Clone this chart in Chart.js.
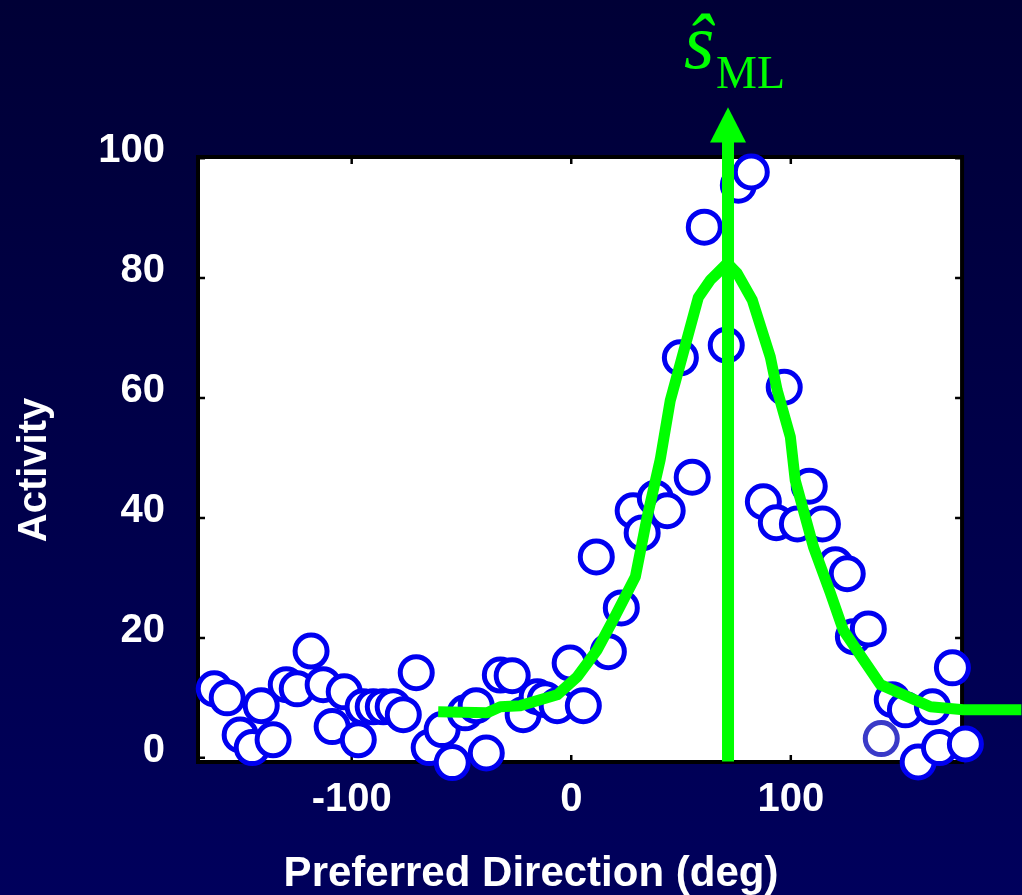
<!DOCTYPE html>
<html>
<head>
<meta charset="utf-8">
<script src="https://cdn.jsdelivr.net/npm/chart.js@4.4.1/dist/chart.umd.min.js"></script>
<style>
  html, body { margin: 0; padding: 0; }
  body {
    width: 1022px; height: 895px; overflow: hidden;
    background: linear-gradient(#000036, #00005c);
  }
  #wrap { position: relative; width: 1022px; height: 895px; }
</style>
</head>
<body>
<div id="wrap"><canvas id="tuning" width="1022" height="895"></canvas></div>
<script>
// neuron preferred directions (deg) and their activity
const prefDir = [
  -162.6, -156.7, -150.8, -145.3, -141.2, -135.8, -129.8, -124.8, -118.5, -113,
  -108.9, -103.4, -97, -94.8, -90.2, -85.6, -81.1, -76.5, -70.6, -64.7,
  -58.8, -54.2, -48.3, -43.3, -38.7, -32.3, -26.9, -21.9, -15.5, -11.8,
  -6.4, -0.5, 5.5, 11.4, 16.9, 22.8, 28.2, 32.3, 38.3, 43.7,
  49.7, 55.1, 60.6, 70.6, 76.1, 82, 87.5, 93.4, 97, 103,
  108.4, 114.4, 120.3, 125.7, 128.5, 135.3, 141.2, 146.2, 152.2, 158,
  164.5, 167.7, 173.6, 179.5
];
const activity = [
  11.5, 10, 3.8, 1.7, 8.7, 3, 12.2, 11.5, 17.8, 12.2,
  5.2, 11, 3, 8.5, 8.5, 8.5, 8.5, 7.2, 14.2, 1.7,
  4.7, -0.8, 7.5, 8.7, 0.8, 13.8, 13.7, 7.2, 10.2, 9.7,
  8.7, 15.8, 8.7, 33.5, 17.7, 25, 41.2, 37.5, 43.3, 41.2,
  66.7, 46.8, 88.5, 68.8, 95.5, 97.7, 42.7, 39.2, 61.8, 39,
  45.3, 39, 32.2, 30.7, 20.2, 21.5, 3.2, 9.7, 8, -0.7,
  8.5, 1.7, 15, 2.3
];
const dimPoint = 56; // the one greyish circle

// fitted tuning curve (green)
const fitX = [-60.6, -38.3, -32.3, -23.2, -6.4, 2.7, 11.8, 19.1, 29.2, 34.6, 40.5, 45.1, 51, 57.9, 63.4, 66.5, 71.1,
              75.6, 82.5, 90.7, 93.8, 99.8, 102, 110.3, 118, 123.9, 140.8, 163.6, 178.6, 205];
const fitY = [7.7, 7.5, 8.5, 8.7, 10.5, 13.5, 18, 23, 30.2, 40.2, 49.7, 59.6, 67.5, 76.8, 79.7, 80.8, 82.5,
              80.8, 76.3, 66.8, 61.3, 53.5, 46.3, 35.2, 27.5, 21.3, 12.2, 8.5, 8, 8];

// ML estimate arrow
const sML = 71.4;
const arrowStem = [-0.6, 104];
const arrowHead = { tip: 108.5, base: 102.6 };

const xTicks = [-100, 0, 100];
const yTicks = [0, 20, 40, 60, 80, 100];
const xFrame = [-170, 178];   // the white box; the scale runs on to the page edge

const GREEN = "#00ff00";
const BLUE = "#0000f0";
const SANS = '"Liberation Sans", Arial, sans-serif';

const plotFrame = {
  id: "plotFrame",
  beforeDraw(chart) {
    const { ctx, chartArea: a, scales } = chart;
    const r = scales.x.getPixelForValue(xFrame[1]);
    ctx.save();
    ctx.fillStyle = "#ffffff";
    ctx.fillRect(a.left, a.top, r - a.left, a.height);
    ctx.restore();
  },
  beforeDatasetsDraw(chart) {
    const { ctx, chartArea: a, scales } = chart;
    const r = scales.x.getPixelForValue(xFrame[1]);
    ctx.save();
    ctx.strokeStyle = "#000";
    ctx.lineWidth = 2.5;
    ctx.beginPath();
    xTicks.forEach(v => {
      const px = scales.x.getPixelForValue(v);
      ctx.moveTo(px, a.bottom); ctx.lineTo(px, a.bottom - 7);
      ctx.moveTo(px, a.top); ctx.lineTo(px, a.top + 7);
    });
    yTicks.forEach(v => {
      const py = scales.y.getPixelForValue(v);
      ctx.moveTo(a.left, py); ctx.lineTo(a.left + 7, py);
      ctx.moveTo(r, py); ctx.lineTo(r - 7, py);
    });
    ctx.stroke();
    ctx.lineWidth = 4;
    ctx.strokeRect(a.left, a.top, r - a.left, a.height);
    ctx.restore();
  },
  afterDatasetsDraw(chart) {
    const { ctx, scales } = chart;
    const px = scales.x.getPixelForValue(sML);
    const tip = scales.y.getPixelForValue(arrowHead.tip);
    const base = scales.y.getPixelForValue(arrowHead.base);
    ctx.save();
    ctx.fillStyle = GREEN;
    ctx.beginPath();
    ctx.moveTo(px, tip);
    ctx.lineTo(px + 18, base);
    ctx.lineTo(px - 18, base);
    ctx.closePath();
    ctx.fill();

    ctx.textBaseline = "alphabetic";
    ctx.textAlign = "left";
    ctx.font = 'italic 78px "Liberation Serif"';
    ctx.fillText("ŝ", px - 44, 68);
    ctx.font = '46px "Liberation Serif"';
    ctx.fillText("ML", px - 12, 88);
    ctx.restore();
  },
  afterDraw(chart) {
    const { ctx } = chart;
    ctx.save();
    ctx.fillStyle = "#ffffff";
    ctx.textAlign = "center";
    ctx.textBaseline = "alphabetic";
    ctx.font = "bold 42px " + SANS;
    ctx.fillText("Preferred Direction (deg)", 531, 886);
    ctx.translate(46, 470);
    ctx.rotate(-Math.PI / 2);
    ctx.font = "bold 40px " + SANS;
    ctx.fillText("Activity", 0, 0);
    ctx.restore();
  }
};

new Chart(document.getElementById("tuning"), {
  type: "scatter",
  data: {
    datasets: [
      {
        type: "line",
        data: arrowStem.map(v => ({ x: sML, y: v })),
        borderColor: GREEN,
        borderWidth: 12,
        pointRadius: 0,
        clip: false,
        order: 0
      },
      {
        type: "line",
        data: fitX.map((x, i) => ({ x, y: fitY[i] })),
        borderColor: GREEN,
        borderWidth: 11,
        borderJoinStyle: "round",
        pointRadius: 0,
        tension: 0,
        clip: false,
        order: 1
      },
      {
        data: prefDir.map((x, i) => ({ x, y: activity[i] })),
        pointRadius: 16,
        borderWidth: 5,
        backgroundColor: "#ffffff",
        borderColor: prefDir.map((_, i) => i === dimPoint ? "#3a3ac8" : BLUE),
        clip: false,
        order: 2
      }
    ]
  },
  options: {
    responsive: false,
    animation: false,
    layout: { autoPadding: false, padding: { top: 157, right: 0, left: 0, bottom: 0 } },
    plugins: { legend: { display: false }, tooltip: { enabled: false } },
    scales: {
      x: {
        type: "linear",
        min: xFrame[0],
        max: 205.3,
        afterBuildTicks: s => { s.ticks = xTicks.map(v => ({ value: v })); },
        afterFit: s => { s.height = 133; },
        grid: { display: false, drawTicks: false },
        border: { display: false },
        ticks: {
          color: "#fff",
          padding: 14,
          font: { family: SANS, size: 40, weight: "bold" }
        }
      },
      y: {
        min: -0.7,
        max: 100.2,
        afterBuildTicks: s => { s.ticks = yTicks.map(v => ({ value: v })); },
        afterFit: s => { s.width = 198; },
        grid: { display: false, drawTicks: false },
        border: { display: false },
        ticks: {
          color: "#fff",
          padding: 33,
          labelOffset: -7,
          font: { family: SANS, size: 40, weight: "bold" }
        }
      }
    }
  },
  plugins: [plotFrame]
});
</script>
</body>
</html>
